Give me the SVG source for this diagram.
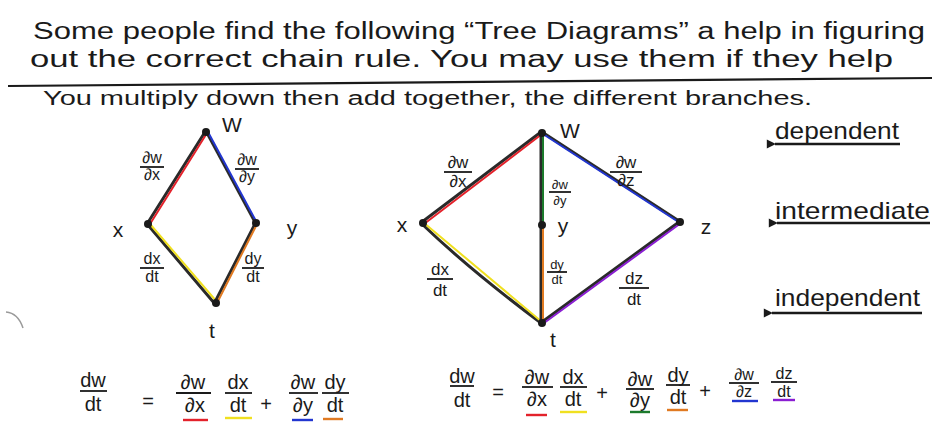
<svg xmlns="http://www.w3.org/2000/svg" width="932" height="422" viewBox="0 0 932 422">
<defs>
<style>
text{font-family:"Liberation Sans","DejaVu Sans",sans-serif;fill:#1a1a1a}
.hd{font-size:23px}
.hd3{font-size:20px}
.nl{font-size:21px;text-anchor:middle}
.fr{font-size:16px;text-anchor:middle}
.frm{font-size:17px;text-anchor:middle}
.frs{font-size:13px;text-anchor:middle}
.eq{font-size:20px;text-anchor:middle}
.eqs{font-size:16px;text-anchor:middle}
.lv{font-size:24px}
.bar{stroke:#1a1a1a;stroke-width:1.8}
.pen{stroke:#2a2a2a;stroke-width:3;stroke-linecap:round;fill:none}
.col{stroke-width:2;stroke-linecap:round;fill:none}
.dot{fill:#1a1a1a}
.arr{stroke:#1a1a1a;stroke-width:2.6;fill:none}
.ul{stroke-width:2.4}
</style>
<marker id="ah" viewBox="0 0 10 10" refX="1" refY="5" markerWidth="4.5" markerHeight="3.5" orient="auto-start-reverse" markerUnits="strokeWidth">
<path d="M0 5 L10 0 L10 10 Z" fill="#1a1a1a"/>
</marker>
</defs>
<rect width="932" height="422" fill="#ffffff"/>

<g id="header">
<text class="hd" x="33" y="39" textLength="892" lengthAdjust="spacingAndGlyphs">Some  people  find  the  following  “Tree  Diagrams”  a help  in figuring</text>
<text class="hd" x="30" y="67" textLength="863" lengthAdjust="spacingAndGlyphs">out  the  correct  chain rule.  You  may  use  them  if  they  help</text>
<text class="hd3" x="43" y="105" textLength="769" lengthAdjust="spacingAndGlyphs">You  multiply  down  then  add  together,  the  different  branches.</text>
<line x1="8" y1="86" x2="932" y2="78" stroke="#1a1a1a" stroke-width="2.2"/>
</g>

<g id="connectors">
<line class="pen" x1="205" y1="132" x2="147" y2="224"/>
<line class="col" stroke="#e3222b" x1="207" y1="133" x2="150" y2="224"/>
<line class="pen" x1="206" y1="131" x2="255" y2="222"/>
<line class="col" stroke="#2236d0" x1="208" y1="132" x2="257" y2="223"/>
<line class="pen" x1="148" y1="225" x2="215" y2="304"/>
<line class="col" stroke="#f0e020" x1="150" y1="224" x2="217" y2="302"/>
<line class="pen" x1="255" y1="224" x2="215" y2="302"/>
<line class="col" stroke="#e07a22" x1="257" y1="224" x2="217" y2="303"/>
<line class="pen" x1="541" y1="132" x2="422" y2="222"/>
<line class="col" stroke="#e3222b" x1="542" y1="134" x2="424" y2="224"/>
<line class="pen" x1="541" y1="133" x2="541" y2="225"/>
<line class="col" stroke="#1c7a2c" x1="543" y1="133" x2="543" y2="225"/>
<line class="pen" x1="542" y1="132" x2="679" y2="221"/>
<line class="col" stroke="#2236d0" x1="543" y1="134" x2="680" y2="223"/>
<path class="pen" d="M422 224 Q470 270 541 323"/>
<line class="col" stroke="#f0e020" x1="424" y1="223" x2="542" y2="322"/>
<line class="pen" x1="541" y1="226" x2="541" y2="323"/>
<line class="col" stroke="#e07a22" x1="543" y1="226" x2="543" y2="323"/>
<line class="pen" x1="679" y1="222" x2="542" y2="322"/>
<line class="col" stroke="#8a1ed2" x1="681" y1="223" x2="544" y2="323"/>
<line class="arr" marker-start="url(#ah)" x1="775" y1="144" x2="900" y2="144"/>
<line class="arr" marker-start="url(#ah)" x1="777" y1="223" x2="930" y2="223"/>
<line class="arr" marker-start="url(#ah)" x1="772" y1="313" x2="922" y2="313"/>
</g>

<g id="L-w"><circle class="dot" cx="206" cy="132" r="4"/><text class="nl" x="232" y="132">W</text></g>
<g id="L-x"><circle class="dot" cx="148" cy="224" r="4"/><text class="nl" x="118" y="237">x</text></g>
<g id="L-y"><circle class="dot" cx="256" cy="223" r="4"/><text class="nl" x="292" y="235">y</text></g>
<g id="L-t"><circle class="dot" cx="216" cy="303" r="4"/><text class="nl" x="212" y="338">t</text></g>

<g id="R-w"><circle class="dot" cx="542" cy="133" r="4"/><text class="nl" x="570" y="138">W</text></g>
<g id="R-x"><circle class="dot" cx="423" cy="223" r="4"/><text class="nl" x="402" y="232">x</text></g>
<g id="R-y"><circle class="dot" cx="542" cy="225" r="4"/><text class="nl" x="563" y="233">y</text></g>
<g id="R-z"><circle class="dot" cx="680" cy="222" r="4"/><text class="nl" x="706" y="234">z</text></g>
<g id="R-t"><circle class="dot" cx="542" cy="323" r="4"/><text class="nl" x="553" y="347">t</text></g>

<g id="edge-labels">
<text class="fr" x="152" y="163">∂w</text><line class="bar" x1="140" y1="167" x2="164" y2="167"/><text class="fr" x="152" y="180">∂x</text>
<text class="fr" x="247" y="165">∂w</text><line class="bar" x1="235" y1="169" x2="259" y2="169"/><text class="fr" x="247" y="182">∂y</text>
<text class="fr" x="152" y="264">dx</text><line class="bar" x1="140" y1="268" x2="164" y2="268"/><text class="fr" x="152" y="282">dt</text>
<text class="fr" x="253" y="264">dy</text><line class="bar" x1="242" y1="268" x2="264" y2="268"/><text class="fr" x="253" y="282">dt</text>

<text class="frm" x="458" y="168">∂w</text><line class="bar" x1="444" y1="172" x2="472" y2="172"/><text class="frm" x="458" y="187">∂x</text>
<text class="frs" x="560" y="189">∂w</text><line class="bar" x1="549" y1="192" x2="571" y2="192"/><text class="frs" x="560" y="205">∂y</text>
<text class="frm" x="626" y="168">∂w</text><line class="bar" x1="610" y1="172" x2="642" y2="172"/><text class="frm" x="626" y="186">∂z</text>
<text class="frm" x="440" y="275">dx</text><line class="bar" x1="427" y1="279" x2="453" y2="279"/><text class="frm" x="440" y="296">dt</text>
<text class="frs" x="557" y="269">dy</text><line class="bar" x1="547" y1="272" x2="567" y2="272"/><text class="frs" x="557" y="284">dt</text>
<text class="frm" x="634" y="284">dz</text><line class="bar" x1="619" y1="288" x2="649" y2="288"/><text class="frm" x="634" y="305">dt</text>
</g>

<g id="levels">
<text class="lv" x="775" y="139" textLength="124" lengthAdjust="spacingAndGlyphs">dependent</text>
<text class="lv" x="775" y="219" textLength="155" lengthAdjust="spacingAndGlyphs">intermediate</text>
<text class="lv" x="775" y="306" textLength="145" lengthAdjust="spacingAndGlyphs">independent</text>
</g>

<g id="equation-left">
<text class="eq" x="93" y="387">dw</text><line class="bar" x1="80" y1="391" x2="107" y2="391"/><text class="eq" x="93" y="411">dt</text>
<text class="eq" x="148" y="408">=</text>
<text class="eq" x="193" y="389">∂w</text><line class="bar" x1="176" y1="393" x2="211" y2="393"/><text class="eq" x="195" y="412">∂x</text>
<text class="eq" x="238" y="389">dx</text><line class="bar" x1="225" y1="393" x2="252" y2="393"/><text class="eq" x="238" y="412">dt</text>
<text class="eq" x="266" y="411">+</text>
<text class="eq" x="303" y="389">∂w</text><line class="bar" x1="289" y1="393" x2="318" y2="393"/><text class="eq" x="303" y="412">∂y</text>
<text class="eq" x="335" y="389">dy</text><line class="bar" x1="322" y1="393" x2="349" y2="393"/><text class="eq" x="335" y="412">dt</text>
<line class="ul" stroke="#e3222b" x1="183" y1="420" x2="208" y2="420"/>
<line class="ul" stroke="#f0e020" x1="225" y1="418" x2="252" y2="418"/>
<line class="ul" stroke="#2236d0" x1="292" y1="420" x2="313" y2="420"/>
<line class="ul" stroke="#e07a22" x1="323" y1="419" x2="343" y2="419"/>
</g>

<g id="equation-right">
<text class="eq" x="462" y="383">dw</text><line class="bar" x1="450" y1="386" x2="474" y2="386"/><text class="eq" x="462" y="407">dt</text>
<text class="eq" x="498" y="399">=</text>
<text class="eq" x="537" y="384">∂w</text><line class="bar" x1="522" y1="387" x2="553" y2="387"/><text class="eq" x="537" y="406">∂x</text>
<text class="eq" x="573" y="384">dx</text><line class="bar" x1="560" y1="387" x2="587" y2="387"/><text class="eq" x="573" y="406">dt</text>
<text class="eq" x="602" y="400">+</text>
<text class="eq" x="640" y="386">∂w</text><line class="bar" x1="626" y1="389" x2="654" y2="389"/><text class="eq" x="640" y="407">∂y</text>
<text class="eq" x="678" y="382">dy</text><line class="bar" x1="666" y1="385" x2="690" y2="385"/><text class="eq" x="678" y="404">dt</text>
<text class="eq" x="705" y="398">+</text>
<text class="eqs" x="744" y="380">∂w</text><line class="bar" x1="729" y1="383" x2="759" y2="383"/><text class="eqs" x="744" y="397">∂z</text>
<text class="eqs" x="784" y="379">dz</text><line class="bar" x1="771" y1="382" x2="797" y2="382"/><text class="eqs" x="784" y="397">dt</text>
<line class="ul" stroke="#e3222b" x1="526" y1="415" x2="547" y2="415"/>
<line class="ul" stroke="#f0e020" x1="560" y1="412" x2="587" y2="412"/>
<line class="ul" stroke="#1c7a2c" x1="630" y1="412" x2="650" y2="412"/>
<line class="ul" stroke="#e07a22" x1="667" y1="410" x2="688" y2="410"/>
<line class="ul" stroke="#2236d0" x1="732" y1="401" x2="758" y2="401"/>
<line class="ul" stroke="#8a1ed2" x1="773" y1="400" x2="795" y2="400"/>
</g>

<path d="M6 312 Q18 313 23 328" fill="none" stroke="#9a9a9a" stroke-width="1.5"/>
</svg>
